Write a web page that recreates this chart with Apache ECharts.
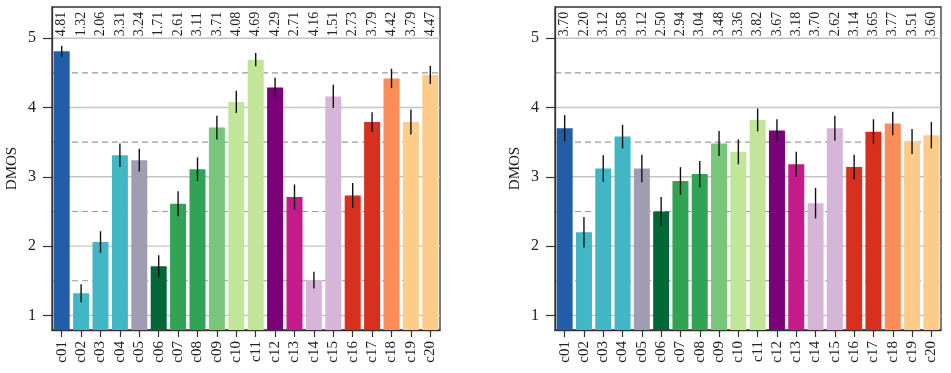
<!DOCTYPE html>
<html>
<head>
<meta charset="utf-8">
<script src="https://cdn.jsdelivr.net/npm/echarts@6/dist/echarts.min.js"></script>
<style>
  html, body { margin: 0; padding: 0; background: #fff; }
  #chart { width: 951px; height: 373px; }
</style>
</head>
<body>
<div id="chart"></div>
<script>
var cats = ['c01', 'c02', 'c03', 'c04', 'c05', 'c06', 'c07', 'c08', 'c09', 'c10',
  'c11', 'c12', 'c13', 'c14', 'c15', 'c16', 'c17', 'c18', 'c19', 'c20']

var colors = ['#225ea8', '#41b6c4', '#41b6c4', '#41b6c4', '#a09db3', '#006837', '#31a354', '#31a354',
  '#78c679', '#c2e699', '#c2e699', '#7a0177', '#c51b8a', '#d7b5d8', '#d7b5d8', '#d7301f',
  '#d7301f', '#fc8d59', '#fdcc8a', '#fdcc8a']

// left panel
var leftVals = [4.81, 1.32, 2.06, 3.31, 3.24, 1.71, 2.61, 3.11, 3.71, 4.08,
  4.69, 4.29, 2.71, 1.51, 4.16, 2.73, 3.79, 4.42, 3.79, 4.47]
var leftErr = [0.08, 0.13, 0.155, 0.17, 0.165, 0.16, 0.18, 0.17, 0.17, 0.16,
  0.095, 0.14, 0.18, 0.12, 0.167, 0.18, 0.14, 0.14, 0.18, 0.13]
var leftTop = ['4.81', '1.32', '2.06', '3.31', '3.24', '1.71', '2.61', '3.11', '3.71', '4.08',
  '4.69', '4.29', '2.71', '4.16', '1.51', '2.73', '3.79', '4.42', '3.79', '4.47']

// right panel
var rightVals = [3.70, 2.20, 3.12, 3.58, 3.12, 2.50, 2.94, 3.04, 3.48, 3.36,
  3.82, 3.67, 3.18, 2.62, 3.70, 3.14, 3.65, 3.77, 3.51, 3.60]
var rightErr = [0.19, 0.22, 0.19, 0.17, 0.2, 0.21, 0.2, 0.19, 0.18, 0.18,
  0.165, 0.16, 0.18, 0.22, 0.18, 0.18, 0.18, 0.17, 0.18, 0.19]
var rightTop = ['3.70', '2.20', '3.12', '3.58', '3.12', '2.50', '2.94', '3.04', '3.48', '3.36',
  '3.82', '3.67', '3.18', '3.70', '2.62', '3.14', '3.65', '3.77', '3.51', '3.60']

var yTicks = [1, 2, 3, 4, 5]
var gridVals = [1, 1.5, 2, 2.5, 3, 3.5, 4, 4.5, 5]
var labelY = 5

var serif = 'Liberation Serif'

var chart = echarts.init(document.getElementById('chart'))

function xAxisFor (i) {
  return {
    type: 'category',
    gridIndex: i,
    data: cats,
    axisLine: { show: true, lineStyle: { color: '#333', width: 1.3 } },
    axisTick: { show: true, interval: 0, alignWithLabel: true, length: 7, lineStyle: { color: '#333', width: 1.2 } },
    axisLabel: { interval: 0, rotate: 90, margin: 11, fontFamily: serif, fontSize: 15, color: '#222' }
  }
}

function yAxisFor (i) {
  return {
    type: 'value',
    gridIndex: i,
    min: 0.79,
    max: 5.45,
    name: 'DMOS',
    nameLocation: 'middle',
    nameGap: 32,
    nameTextStyle: { fontFamily: serif, fontSize: 15, color: '#222' },
    axisLine: { show: true, lineStyle: { color: '#333', width: 1.3 } },
    axisTick: { show: true, customValues: yTicks, length: 9, lineStyle: { color: '#333', width: 1.2 } },
    axisLabel: { customValues: yTicks, margin: 16, fontFamily: serif, fontSize: 16, color: '#222' },
    splitLine: { show: false }
  }
}

function seriesFor (i, vals, errs, tops) {
  return [
    {
      type: 'custom',
      xAxisIndex: i,
      yAxisIndex: i,
      z: 0,
      silent: true,
      data: gridVals.map(function (v) { return [0, v] }),
      renderItem: function (params, api) {
        var v = api.value(1)
        var cs = params.coordSys
        var p = api.coord([0, v])
        var half = v % 1 !== 0
        return {
          type: 'line',
          shape: { x1: cs.x, y1: p[1], x2: cs.x + cs.width, y2: p[1] },
          style: half
            ? { stroke: '#9a9a9a', lineWidth: 1.1, lineDash: [6, 4] }
            : { stroke: '#c4c4c4', lineWidth: 1.4 }
        }
      }
    },
    {
      type: 'bar',
      xAxisIndex: i,
      yAxisIndex: i,
      z: 2,
      barWidth: 16,
      data: vals,
      itemStyle: {
        color: function (params) {
          return colors[params.dataIndex]
        }
      }
    },
    {
      type: 'custom',
      xAxisIndex: i,
      yAxisIndex: i,
      z: 3,
      data: vals.map(function (v, k) { return [k, v, errs[k]] }),
      renderItem: function (params, api) {
        var x = api.value(0)
        var v = api.value(1)
        var e = api.value(2)
        var p1 = api.coord([x, v - e])
        var p2 = api.coord([x, v + e])
        return {
          type: 'line',
          shape: { x1: p1[0], y1: p1[1], x2: p2[0], y2: p2[1] },
          style: { stroke: '#111', lineWidth: 1.4 }
        }
      }
    },
    {
      type: 'custom',
      xAxisIndex: i,
      yAxisIndex: i,
      z: 4,
      data: tops.map(function (t, k) { return [k, labelY] }),
      renderItem: function (params, api) {
        var p = api.coord([api.value(0), api.value(1)])
        return {
          type: 'text',
          x: p[0],
          y: p[1] - 2,
          rotation: Math.PI / 2,
          style: {
            text: tops[params.dataIndex],
            fill: '#222',
            fontFamily: serif,
            fontSize: 14,
            align: 'left',
            verticalAlign: 'middle'
          }
        }
      }
    }
  ]
}

var option = {
  animation: false,
  backgroundColor: '#fff',
  grid: [
    { left: 52, right: 511, top: 7, bottom: 43, show: true, borderColor: '#333', borderWidth: 1.3, backgroundColor: 'transparent' },
    { left: 555, right: 10, top: 7, bottom: 43, show: true, borderColor: '#333', borderWidth: 1.3, backgroundColor: 'transparent' }
  ],
  xAxis: [xAxisFor(0), xAxisFor(1)],
  yAxis: [yAxisFor(0), yAxisFor(1)],
  series: seriesFor(0, leftVals, leftErr, leftTop).concat(seriesFor(1, rightVals, rightErr, rightTop))
}

chart.setOption(option, true)
</script>
</body>
</html>
